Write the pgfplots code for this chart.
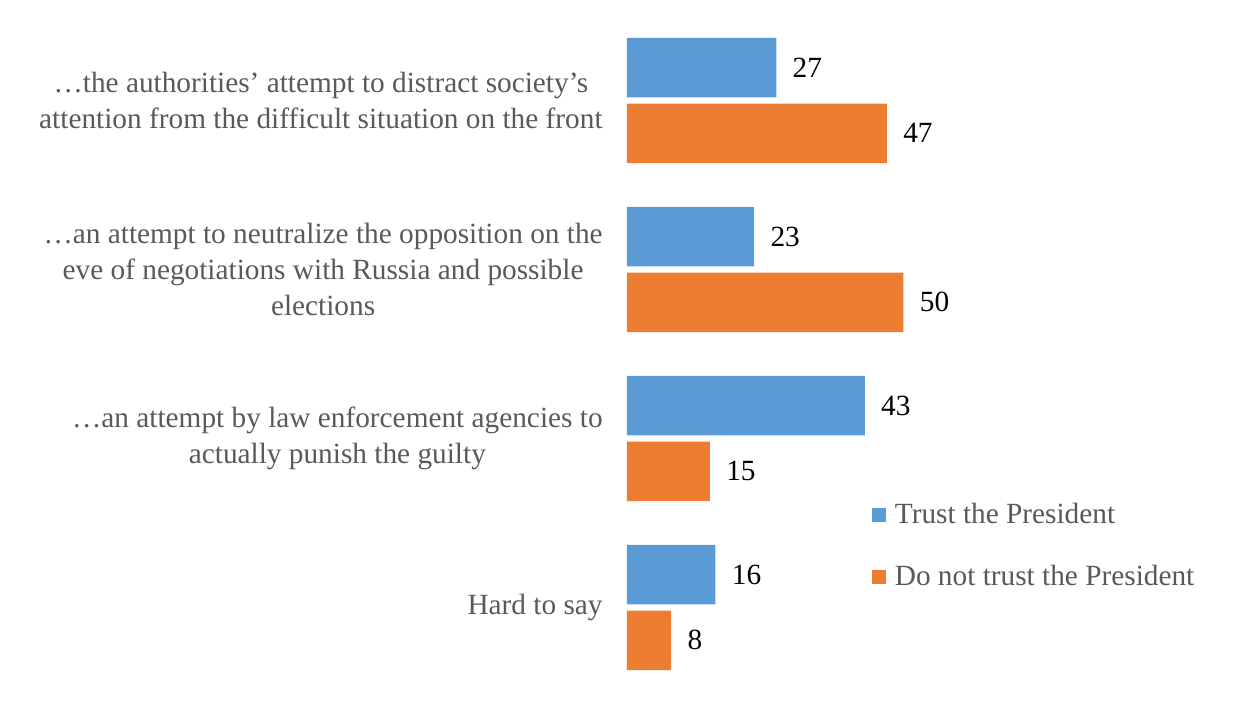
\documentclass[border=0pt]{standalone}
\usepackage{pgfplots}
\pgfplotsset{compat=1.18}
\usepackage{fontspec}
\setmainfont{Liberation Serif}
\definecolor{cblue}{HTML}{5B9BD5}
\definecolor{corange}{HTML}{ED7D31}
\definecolor{labgray}{HTML}{595959}
\newcommand{\lfont}{\fontsize{14.65pt}{17.8pt}\selectfont}
\begin{document}
\begin{tikzpicture}
\useasboundingbox (0,0) rectangle (619pt,359.5pt);
\begin{axis}[
  at={(313.5pt,0pt)}, anchor=south west,
  scale only axis, width=305.5pt, height=359.5pt,
  xmin=0, xmax=110.49, ymin=-0.6598, ymax=3.5947,
  xbar, bar width=29.75pt,
  axis line style={draw=none},
  xtick=\empty,
  ytick={0,1,2,3},
  yticklabels={
    {Hard to say},
    {…an attempt by law enforcement agencies to\\actually punish the guilty},
    {…an attempt to neutralize the opposition on the\\eve of negotiations with Russia and possible\\elections},
    {…the authorities’ attempt to distract society’s\\attention from the difficult situation on the front}},
  major tick length=0pt,
  yticklabel style={align=center, font=\lfont, text=labgray, inner sep=0pt, xshift=-12pt},
  clip=false,
  nodes near coords,
  /pgf/number format/assume math mode=true,
  every node near coord/.append style={font=\lfont, text=black, anchor=west, inner sep=0pt, xshift=8pt},
  legend style={at={(axis cs:43.2,0.655)}, anchor=north west, draw=none, fill=none,
    font=\lfont, text=labgray, row sep=17.5pt, nodes={inner sep=1pt}},
  legend cell align=left,
  legend image code/.code={\fill[#1,draw=none] (0pt,-3.4pt) rectangle (6.8pt,3.4pt); \path (0pt,0pt) -- (10.3pt,0pt);},
]
\addplot[fill=cblue, draw=none, bar shift=16.4pt] coordinates {(27,3) (23,2) (43,1) (16,0)};
\addplot[fill=corange, draw=none, bar shift=-16.4pt] coordinates {(47,3) (50,2) (15,1) (8,0)};
\legend{Trust the President, Do not trust the President}
\end{axis}
\end{tikzpicture}
\end{document}
